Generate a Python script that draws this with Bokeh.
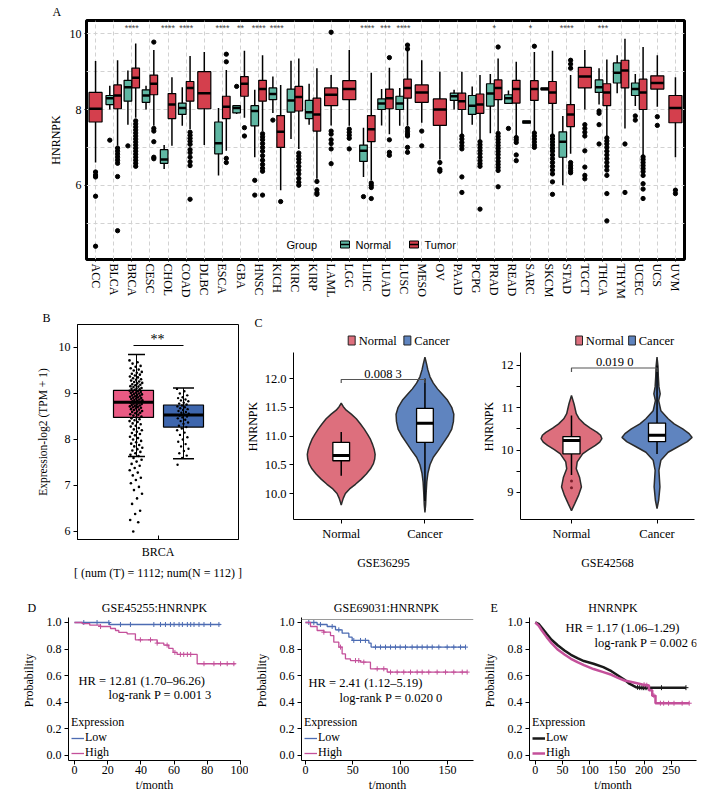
import numpy as np
from bokeh.plotting import figure
from bokeh.layouts import column, row
from bokeh.models import Range1d, FixedTicker, Label, Span, Legend, LegendItem, PrintfTickFormatter
from bokeh.embed import file_html
from bokeh.resources import INLINE
from bokeh.core.properties import value

NaN = float("nan")

# ======================= DATA =======================
# ---- Panel A: pan-cancer HNRNPK expression (box statistics) ----
cancer_types = ["ACC", "BLCA", "BRCA", "CESC", "CHOL", "COAD", "DLBC", "ESCA", "GBA", "HNSC", "KICH",
                "KIRC", "KIRP", "LAML", "LGG", "LIHC", "LUAD", "LUSC", "MESO", "OV", "PAAD", "PCPG",
                "PRAD", "READ", "SARC", "SKCM", "STAD", "TGCT", "THCA", "THYM", "UCEC", "UCS", "UVM"]
significance = ["", "", "****", "", "****", "****", "", "****", "**", "****", "****", "", "", "", "",
                "****", "***", "****", "", "", "", "", "*", "", "*", "", "****", "", "***", "", "", "", ""]

normal_lo = [NaN, 8.00, 7.60, 8.00, 6.43, 7.57, NaN, 6.26, 7.88, 6.74, 7.91, 7.22, 7.60, NaN, NaN, 6.22, 7.58,
             7.57, NaN, NaN, 8.00, 7.60, 7.37, 8.16, 7.67, 8.54, 6.00, NaN, 8.13, 8.43, 8.09, NaN, NaN]
normal_q1 = [NaN, 8.13, 8.22, 8.19, 6.58, 7.87, NaN, 6.83, 7.91, 7.57, 8.26, 7.93, 7.76, NaN, NaN, 6.63, 8.00,
             8.00, NaN, NaN, 8.24, 7.87, 8.09, 8.16, 7.64, 8.52, 6.74, NaN, 8.45, 8.70, 8.37, NaN, NaN]
normal_med = [NaN, 8.30, 8.59, 8.37, 6.68, 8.04, NaN, 7.11, 8.04, 7.96, 8.41, 8.24, 7.93, NaN, NaN, 6.91, 8.16,
              8.16, NaN, NaN, 8.35, 8.10, 8.42, 8.30, 7.67, 8.54, 7.15, NaN, 8.59, 8.97, 8.54, NaN, NaN]
normal_q3 = [NaN, 8.37, 8.77, 8.52, 6.94, 8.17, NaN, 7.67, 8.10, 8.10, 8.57, 8.54, 8.24, NaN, NaN, 7.06, 8.28,
             8.35, NaN, NaN, 8.43, 8.37, 8.68, 8.39, 7.70, 8.57, 7.41, NaN, 8.78, 9.23, 8.70, NaN, NaN]
normal_hi = [NaN, 8.63, 9.03, 8.63, 7.06, 8.59, NaN, 8.04, 8.12, 8.52, 8.87, 9.29, 8.68, NaN, NaN, 7.52, 8.54,
             8.57, NaN, NaN, 8.52, 8.61, 8.94, 8.50, 7.67, 8.54, 7.83, NaN, 9.09, 9.43, 8.94, NaN, NaN]
normal_out = [[], [7.19], [7.04], [], [], [], [], [], [8.61], [6.13, 5.74], [7.72], [], [], [], [], [5.70], [],
              [], [], [], [], [], [], [7.50], [], [], [], [], [7.96, 7.90, 7.60, 7.09], [], [7.83, 7.72], [], []]

tumor_lo = [6.60, 7.04, 7.78, 7.57, 7.04, 7.48, 7.06, 6.91, 7.78, 7.43, 5.87, 6.96, 6.17, 7.58, 7.57, 6.13, 7.35,
            7.57, 7.65, 6.68, 7.35, 7.20, 7.43, 7.30, 7.43, 7.35, 6.83, 8.00, 7.30, 7.50, 6.80, 8.07, 6.74]
tumor_q1 = [7.67, 8.02, 8.57, 8.39, 7.76, 8.22, 8.02, 7.76, 8.35, 8.22, 7.00, 7.96, 7.43, 8.10, 8.26, 7.15, 8.02,
            8.30, 8.19, 7.58, 8.00, 7.90, 8.26, 8.17, 8.24, 8.16, 7.55, 8.57, 8.10, 8.57, 8.00, 8.54, 7.65]
tumor_med = [8.02, 8.37, 8.84, 8.68, 8.13, 8.57, 8.43, 8.07, 8.68, 8.54, 7.41, 8.33, 7.87, 8.39, 8.54, 7.48, 8.30,
             8.57, 8.45, 8.00, 8.22, 8.13, 8.57, 8.54, 8.54, 8.45, 7.87, 8.87, 8.45, 9.03, 8.45, 8.70, 8.04]
tumor_q3 = [8.45, 8.65, 9.09, 8.91, 8.42, 8.74, 9.00, 8.35, 8.87, 8.77, 7.84, 8.61, 8.30, 8.57, 8.76, 7.84, 8.54,
            8.80, 8.65, 8.28, 8.43, 8.41, 8.78, 8.77, 8.76, 8.74, 8.13, 9.11, 8.68, 9.30, 8.80, 8.89, 8.37]
tumor_hi = [9.28, 9.30, 9.74, 9.57, 8.85, 9.41, 9.52, 9.04, 9.55, 9.43, 8.65, 9.35, 9.09, 8.91, 9.57, 8.97, 9.10,
            9.57, 9.30, 9.00, 9.00, 8.91, 9.35, 9.26, 9.52, 9.55, 8.91, 9.57, 9.32, 9.87, 9.65, 9.43, 8.85]
tumor_out = [
    [6.35, 6.27, 6.22, 5.71, 4.39],
    [6.98, 6.90, 6.82, 6.74, 6.66, 6.58, 6.23, 4.80],
    [7.70, 7.62, 7.54, 7.46, 7.38, 7.30, 7.22, 7.14, 7.06, 6.98, 6.90, 6.82, 6.74, 6.66, 6.58, 6.50],
    [9.78, 7.50, 7.43, 7.15, 6.74, 6.70],
    [],
    [7.40, 7.32, 7.24, 7.16, 7.08, 6.94, 6.86, 6.74, 6.62, 6.52, 5.63],
    [],
    [9.46, 9.26, 6.71, 6.60],
    [7.52, 7.30],
    [7.36, 7.28, 7.20, 7.10, 7.00, 6.90, 6.78, 6.66, 6.55, 6.45, 6.37, 5.74],
    [5.57],
    [6.85, 6.77, 6.69, 6.60, 6.50, 6.40, 6.30, 6.18, 6.08, 6.00],
    [6.10, 5.88, 5.80, 5.76],
    [10.04, 7.43, 7.35, 7.20, 7.10, 6.96, 6.57],
    [7.48, 7.40, 7.32, 7.24, 6.96],
    [6.06, 6.00, 5.94, 5.65],
    [9.37, 7.20, 6.87, 6.79],
    [9.70, 9.60, 7.50, 7.42, 7.35, 7.30, 7.00, 6.87],
    [7.43, 7.04],
    [6.60, 6.42, 6.37],
    [7.30, 7.22, 7.13, 7.04, 6.96, 6.22, 5.81],
    [7.15, 7.07, 6.99, 6.91, 6.83, 6.74, 6.65, 6.57, 6.50, 5.37],
    [9.65, 7.37, 7.29, 7.21, 7.13, 7.05, 6.97, 6.89, 6.81, 6.72, 6.63, 6.55, 6.47, 6.39, 5.96],
    [7.26, 7.20, 7.13, 6.80, 6.65],
    [9.67, 7.38, 7.30, 7.22, 7.14, 7.06, 7.00],
    [7.30, 7.22, 7.14, 7.06, 6.98, 6.90, 6.80, 6.70, 6.60, 6.50, 6.40, 6.30, 6.09, 5.76],
    [9.30, 9.20, 9.09, 6.60, 6.52, 6.45, 6.38, 6.33],
    [7.60, 7.50, 7.40, 7.30, 6.91, 6.48, 6.26, 6.17],
    [7.25, 7.17, 7.09, 7.00, 6.90, 6.80, 6.70, 6.60, 6.50, 6.40, 6.26, 5.78, 5.06],
    [7.09, 5.81],
    [6.75, 6.68, 6.60, 6.52, 6.44, 6.36, 6.26, 6.04, 5.90, 5.65],
    [7.81, 7.58],
    [5.87, 5.78],
]

# ---- Panel B: BRCA tumour vs normal ----
b_groups = ["Tumor", "Normal"]
b_lo = [7.63, 7.58]
b_q1 = [8.48, 8.27]
b_med = [8.81, 8.53]
b_q3 = [9.07, 8.75]
b_hi = [9.85, 9.12]
b_tumor_points = [9.72, 9.68, 9.65, 9.60, 9.58, 9.55, 9.52, 9.50, 9.47, 9.45, 9.43, 9.41, 9.39, 9.37, 9.35, 9.33,
                  9.31, 9.30, 9.28, 9.26, 9.25, 9.23, 9.22, 9.20, 9.19, 9.18, 9.16, 9.15, 9.14, 9.12, 9.11, 9.10,
                  9.09, 9.08, 9.06, 9.05, 9.04, 9.03, 9.02, 9.01, 9.00, 8.99, 8.98, 8.97, 8.96, 8.95, 8.94, 8.93,
                  8.92, 8.91, 8.90, 8.89, 8.88, 8.87, 8.86, 8.85, 8.84, 8.83, 8.82, 8.81, 8.80, 8.79, 8.78, 8.77,
                  8.76, 8.75, 8.74, 8.73, 8.72, 8.71, 8.70, 8.69, 8.68, 8.66, 8.65, 8.64, 8.62, 8.61, 8.60, 8.58,
                  8.57, 8.55, 8.54, 8.52, 8.50, 8.48, 8.46, 8.44, 8.42, 8.40, 8.38, 8.35, 8.33, 8.30, 8.28, 8.25,
                  8.22, 8.20, 8.17, 8.14, 8.12, 8.09, 8.06, 8.03, 8.00, 7.97, 7.94, 7.91, 7.88, 7.85, 7.82, 7.79,
                  7.76, 7.73, 7.70, 7.67, 7.64, 7.60, 7.56, 7.52, 7.47, 7.43, 7.38, 7.33, 7.28, 7.22, 7.17, 7.12,
                  7.05, 6.97, 6.90, 6.82, 6.72, 6.60, 6.45, 6.38, 6.25, 6.20, 6.00]
b_normal_points = [9.10, 9.05, 9.00, 8.96, 8.92, 8.90, 8.87, 8.85, 8.83, 8.80, 8.78, 8.76, 8.74, 8.72, 8.70, 8.68,
                   8.66, 8.64, 8.62, 8.60, 8.58, 8.56, 8.54, 8.52, 8.50, 8.48, 8.46, 8.43, 8.40, 8.37, 8.34, 8.30,
                   8.27, 8.24, 8.20, 8.15, 8.10, 8.05, 8.00, 7.95, 7.90, 7.85, 7.80, 7.75, 7.70, 7.65, 7.60, 7.45]

# ---- Panel C: GEO violins (profile: value level, half-width) ----
c1_normal_y = [9.80, 9.85, 9.92, 10.00, 10.08, 10.16, 10.25, 10.34, 10.43, 10.52, 10.60, 10.68, 10.76, 10.85,
               10.94, 11.03, 11.12, 11.21, 11.30, 11.38, 11.45, 11.51, 11.57]
c1_normal_w = [0.0, 0.01, 0.025, 0.05, 0.10, 0.17, 0.24, 0.30, 0.35, 0.385, 0.40, 0.405, 0.395, 0.375, 0.35,
               0.315, 0.275, 0.23, 0.18, 0.12, 0.06, 0.025, 0.0]
c1_cancer_y = [9.67, 9.80, 10.00, 10.20, 10.35, 10.50, 10.63, 10.75, 10.88, 11.00, 11.12, 11.25, 11.38, 11.50,
               11.62, 11.72, 11.82, 11.92, 12.03, 12.15, 12.25, 12.37]
c1_cancer_w = [0.0, 0.008, 0.014, 0.022, 0.035, 0.06, 0.10, 0.16, 0.22, 0.275, 0.32, 0.34, 0.345, 0.32, 0.27,
               0.21, 0.15, 0.10, 0.06, 0.035, 0.02, 0.0]
c1_box = {"q1": [10.57, 10.89], "med": [10.66, 11.22], "q3": [10.89, 11.48], "lo": [10.31, 9.87], "hi": [11.07, 12.0]}
c1_p = "0.008 3"

c2_normal_y = [8.57, 8.73, 8.93, 9.13, 9.36, 9.56, 9.72, 9.91, 10.01, 10.11, 10.19, 10.27, 10.35, 10.42, 10.52,
               10.62, 10.74, 10.86, 11.09, 11.29]
c2_normal_w = [0.0, 0.037, 0.082, 0.116, 0.094, 0.056, 0.067, 0.13, 0.20, 0.28, 0.33, 0.356, 0.34, 0.30, 0.22,
               0.15, 0.09, 0.056, 0.03, 0.0]
c2_cancer_y = [8.62, 8.81, 9.13, 9.52, 9.76, 9.95, 10.08, 10.20, 10.30, 10.39, 10.50, 10.62, 10.74, 10.93, 11.17,
               11.33, 11.50, 11.74, 11.98, 12.20]
c2_cancer_w = [0.0, 0.019, 0.034, 0.022, 0.045, 0.13, 0.245, 0.355, 0.41, 0.375, 0.30, 0.20, 0.13, 0.045, 0.019,
               0.037, 0.022, 0.015, 0.011, 0.0]
c2_box = {"q1": [9.91, 10.20], "med": [10.23, 10.35], "q3": [10.32, 10.64], "lo": [9.41, 9.91], "hi": [10.82, 12.0]}
c2_normal_out = [9.27, 9.11]
c2_p = "0.019 0"

# ---- Panels D/E: Kaplan-Meier curves ----
d1_low_t = [0, 21, 88]
d1_low_s = [1.0, 0.985, 0.985]
d1_high_t = [0, 4.6, 9.2, 15.7, 21.7, 24.7, 26.7, 31.7, 36.7, 49.8, 53.8, 56.8, 59.4, 61.8, 73.9, 97]
d1_high_s = [1.0, 0.992, 0.98, 0.97, 0.955, 0.94, 0.925, 0.915, 0.87, 0.845, 0.83, 0.805, 0.775, 0.76, 0.69, 0.69]
d1_low_cens = [5.6, 13.6, 20.7, 27.7, 33.7, 47.8, 51.8, 54.8, 57.8, 60, 63, 65, 68, 70, 72, 75, 78, 82, 87]
d1_high_cens = [15.7, 39.7, 45.8, 49.8, 55.8, 60.5, 63.8, 65.8, 68, 70, 78, 84, 88, 92, 96]

d2_low_t = [0, 12.3, 22.9, 31.7, 38.7, 45.8, 49.3, 66.9, 69.3, 169]
d2_low_s = [1.0, 0.985, 0.97, 0.945, 0.92, 0.89, 0.865, 0.845, 0.815, 0.815]
d2_high_t = [0, 5.3, 12.3, 19.4, 26.4, 29.9, 35.2, 38.7, 42.2, 47.5, 58.1, 68.6, 86.3, 170.7]
d2_high_s = [1.0, 0.97, 0.94, 0.927, 0.902, 0.852, 0.815, 0.764, 0.727, 0.714, 0.702, 0.652, 0.627, 0.627]
d2_low_cens = [3.5, 8.8, 15.8, 28.2, 35.2, 51.0, 58.1, 63.3, 73.9, 79.2, 84.5, 89.8, 95, 100, 105.6, 112.6,
               117.9, 123.2, 128.5, 133.8, 140.8, 149.6, 156.6, 163.7, 169]
d2_high_cens = [19.4, 37, 52.8, 56.3, 61.6, 75.7, 82.7, 89.8, 96.8, 103.8, 110.9, 117.9, 123.2, 130.2, 139,
                147.9, 156.6, 165.5, 170.7]

e_low_t = [0, 6, 12, 20.8, 29.8, 41.7, 53.6, 65.5, 77.4, 89.3, 107, 125, 140, 152, 164, 173, 185, 193, 277]
e_low_s = [1.0, 0.99, 0.96, 0.915, 0.87, 0.827, 0.79, 0.757, 0.732, 0.71, 0.69, 0.664, 0.634, 0.602, 0.57,
           0.54, 0.514, 0.51, 0.51]
e_high_t = [0, 6, 12, 20.8, 29.8, 41.7, 53.6, 65.5, 77.4, 89.3, 107, 125, 140, 152, 164, 179, 197, 209, 209,
            215, 215, 221, 221, 283]
e_high_s = [1.0, 0.977, 0.94, 0.89, 0.845, 0.795, 0.76, 0.727, 0.702, 0.68, 0.65, 0.627, 0.607, 0.584, 0.564,
            0.551, 0.534, 0.526, 0.49, 0.49, 0.45, 0.45, 0.393, 0.393]
e_low_cens = [188, 192, 196, 199, 202, 205, 232, 277]
e_high_cens = [200, 205, 218, 230, 236, 245, 255, 270, 283]

# ======================= STYLE =======================
SERIF = "Liberation Serif"
SANS = "Liberation Sans"
NORM_A, TUM_A = "#5fb7a3", "#d43f4d"
PINK_B, BLUE_B = "#ea5a84", "#3e66ad"
PINK_C, BLUE_C = "#dd6f7d", "#5f84bf"
KM_BLUE, KM_PINK, KM_BLACK = "#4d6cb3", "#c4509a", "#1a1a1a"


class Geo:
    """Figure placement: origin/size on the page and the frame box (page px), with data ranges."""

    def __init__(self, ox, oy, w, h, L, T, R, B, xr, yr):
        self.ox, self.oy, self.w, self.h = ox, oy, w, h
        self.L, self.T, self.R, self.B = L, T, R, B
        self.xr, self.yr = xr, yr

    def fx(self, px):
        return self.xr[0] + (px - self.L) / (self.R - self.L) * (self.xr[1] - self.xr[0])

    def fy(self, py):
        return self.yr[1] - (py - self.T) / (self.B - self.T) * (self.yr[1] - self.yr[0])

    def dx(self, px):
        return px / (self.R - self.L) * (self.xr[1] - self.xr[0])

    def dy(self, px):
        return px / (self.B - self.T) * (self.yr[1] - self.yr[0])

    def fig(self):
        p = figure(width=self.w, height=self.h, x_range=Range1d(*self.xr), y_range=Range1d(*self.yr),
                   min_border_left=self.L - self.ox, min_border_right=self.ox + self.w - self.R,
                   min_border_top=self.T - self.oy, min_border_bottom=self.oy + self.h - self.B,
                   output_backend="svg", toolbar_location=None, tools="")
        p.frame_align = False
        p.background_fill_color = "white"
        p.border_fill_color = "white"
        p.outline_line_color = None
        p.grid.visible = False
        for ax in list(p.xaxis) + list(p.yaxis):
            ax.major_label_text_font = SERIF
            ax.major_label_text_font_size = "12px"
            ax.major_label_text_color = "black"
            ax.axis_label_text_font = SERIF
            ax.axis_label_text_font_size = "12px"
            ax.axis_label_text_font_style = "normal"
            ax.axis_label_text_color = "black"
            ax.axis_line_color = "black"
            ax.major_tick_line_color = "black"
            ax.minor_tick_line_color = None
            ax.major_tick_in = 0
            ax.major_tick_out = 4
            ax.major_label_standoff = 3
        return p


def add_text(p, x, y, text, size="12px", font=SERIF, align="left", baseline="middle", color="black",
             style="normal", **kw):
    p.add_layout(Label(x=x, y=y, text=text, text_font=font, text_font_size=size, text_align=align,
                       text_baseline=baseline, text_color=color, text_font_style=style, **kw))


def letter(p, text, offset, standoff):
    p.title.text = text
    p.title.align = "left"
    p.title.offset = offset
    p.title.standoff = standoff
    p.title.text_font = SERIF
    p.title.text_font_size = "12px"
    p.title.text_font_style = "normal"
    p.title.text_color = "black"


# ======================= PANEL A =======================
gA = Geo(0, 0, 712, 308, 86, 20, 684, 259, (0.5, 33.5), (4.04, 10.35))
pA = gA.fig()
pA.outline_line_color = "black"
pA.outline_line_width = 3
ncat = len(cancer_types)
pos = np.arange(1, ncat + 1, dtype=float)
has_n = ~np.isnan(np.array(normal_med))
tx = np.where(has_n, pos + 0.215, pos)
tw = np.where(has_n, 0.42, 0.72)
nx = pos[has_n] - 0.215
nw = 0.42


def masked(a):
    return np.array(a)[has_n]


xg = pA.xgrid[0]
xg.visible = True
xg.ticker = FixedTicker(ticks=list(range(1, ncat + 1)))
yg = pA.ygrid[0]
yg.visible = True
yg.ticker = FixedTicker(ticks=[5, 6, 7, 8, 9, 10])
for g in (xg, yg):
    g.grid_line_color = "#d2d2d2"
    g.grid_line_dash = "4 3"
    g.grid_line_width = 1

pA.segment(x0=nx, y0=masked(normal_lo), x1=nx, y1=masked(normal_hi), line_color="black", line_width=1.5)
pA.segment(x0=tx, y0=tumor_lo, x1=tx, y1=tumor_hi, line_color="black", line_width=1.5)
pA.vbar(x=nx, width=nw, bottom=masked(normal_q1), top=masked(normal_q3), fill_color=NORM_A,
        line_color="black", line_width=1.2)
pA.vbar(x=tx, width=tw, bottom=tumor_q1, top=tumor_q3, fill_color=TUM_A, line_color="black", line_width=1.2)
pA.segment(x0=nx - nw / 2, y0=masked(normal_med), x1=nx + nw / 2, y1=masked(normal_med),
           line_color="black", line_width=2.5)
pA.segment(x0=tx - tw / 2, y0=tumor_med, x1=tx + tw / 2, y1=tumor_med, line_color="black", line_width=2.5)
ox, oy = [], []
for i, lst in enumerate(normal_out):
    for v in lst:
        ox.append(pos[i] - 0.215)
        oy.append(v)
for i, lst in enumerate(tumor_out):
    for v in lst:
        ox.append(tx[i])
        oy.append(v)
pA.scatter(ox, oy, marker="circle", size=4.3, fill_color="black", line_color="black")
sx = [pos[i] for i, s in enumerate(significance) if s]
st = [s for s in significance if s]
pA.text(x=sx, y=[gA.fy(27.5)] * len(sx), text=st, text_font=value(SANS), text_font_size="9px",
        text_align="center", text_baseline="middle", text_color="#444444")

axA = pA.xaxis[0]
axA.ticker = FixedTicker(ticks=list(range(1, ncat + 1)))
axA.major_label_overrides = {i + 1: c for i, c in enumerate(cancer_types)}
axA.major_label_orientation = "vertical"
axA.axis_line_color = None
axA.major_tick_out = 2
axA.major_label_standoff = 2
ayA = pA.yaxis[0]
ayA.ticker = FixedTicker(ticks=[6, 8, 10])
ayA.axis_line_color = None
ayA.major_tick_out = 2
ayA.major_label_standoff = 3
ayA.axis_label = "HNRNPK"
ayA.axis_label_standoff = 4

add_text(pA, gA.fx(286), gA.fy(244), "Group", size="11px", font=SANS)
for cx, col, lab in ((344.5, NORM_A, "Normal"), (413.5, TUM_A, "Tumor")):
    pA.rect(x=[gA.fx(cx)], y=[gA.fy(244)], width=gA.dx(9), height=gA.dy(7), fill_color=col,
            line_color="black", line_width=1)
    pA.segment(x0=[gA.fx(cx - 4.5)], y0=[gA.fy(244)], x1=[gA.fx(cx + 4.5)], y1=[gA.fy(244)],
               line_color="black", line_width=1.5)
    add_text(pA, gA.fx(cx + 10.5), gA.fy(244), lab, size="11px", font=SANS)
letter(pA, "A", -34, 3)

# ======================= PANEL B =======================
gB = Geo(0, 308, 242, 280, 77, 324, 238, 539, (0.0, 2.0), (5.826, 10.5))
pB = gB.fig()
pB.outline_line_color = "black"
pB.outline_line_width = 1
bx = [gB.fx(133), gB.fx(183)]
cap_x = [gB.fx(136), gB.fx(183)]
cap_w = [gB.dx(17), gB.dx(21)]
bw = gB.dx(40)
pB.vbar(x=bx, width=bw, bottom=b_q1, top=b_q3, fill_color=[PINK_B, BLUE_B], line_color="black", line_width=1.2)
pB.segment(x0=cap_x, y0=b_lo, x1=cap_x, y1=b_hi, line_color="black", line_width=1)
cap_l = [c - w / 2 for c, w in zip(cap_x, cap_w)]
cap_r = [c + w / 2 for c, w in zip(cap_x, cap_w)]
pB.segment(x0=cap_l, y0=b_hi, x1=cap_r, y1=b_hi, line_color="black", line_width=1.5)
pB.segment(x0=cap_l, y0=b_lo, x1=cap_r, y1=b_lo, line_color="black", line_width=1.5)


def jitter(n, half):
    return np.array([((i * 0.6180339887) % 1.0 - 0.5) * 2 * half for i in range(n)])


jt = gB.fx(135.5) + jitter(len(b_tumor_points), gB.dx(6.5))
jn = gB.fx(182.5) + jitter(len(b_normal_points), gB.dx(6))
pB.scatter(jt, b_tumor_points, marker="circle", size=2.6, fill_color="black", line_color=None)
pB.scatter(jn, b_normal_points, marker="circle", size=2.4, fill_color="black", line_color=None)
pB.segment(x0=[b - bw / 2 for b in bx], y0=b_med, x1=[b + bw / 2 for b in bx], y1=b_med,
           line_color="black", line_width=3)
pB.line(x=bx, y=[gB.fy(345)] * 2, line_color="black", line_width=1)
add_text(pB, gB.fx(157), gB.fy(339), "**", size="14px", align="center")
letter(pB, "B", -35, 0)
pB.yaxis[0].ticker = FixedTicker(ticks=[6, 7, 8, 9, 10])
pB.yaxis[0].axis_label = "Expression-log2 (TPM + 1)"
pB.yaxis[0].axis_label_text_font_size = "11.5px"
pB.yaxis[0].axis_label_standoff = 7
pB.xaxis[0].ticker = FixedTicker(ticks=[1])
pB.xaxis[0].major_label_overrides = {1: "BRCA"}
pB.xaxis[0].major_tick_out = 0
pB.xaxis[0].major_tick_in = 4
pB.xaxis[0].major_label_standoff = 5
pB.xaxis[0].axis_label = "[ (num (T) = 1112; num(N = 112) ]"
pB.xaxis[0].axis_label_standoff = 4


# ======================= PANEL C =======================
def violin_panel(g, axis_top, norm_y, norm_w, canc_y, canc_w, box, p_text, title, yticks, minor, geo_px, bw,
                 extra=None):
    p = g.fig()
    for cx, ys, ws, col in ((1, norm_y, norm_w, PINK_C), (2, canc_y, canc_w, BLUE_C)):
        ys = np.array(ys)
        ws = np.array(ws)
        xs = np.concatenate([cx - ws, (cx + ws)[::-1]])
        yy = np.concatenate([ys, ys[::-1]])
        p.patch(xs, yy, fill_color=col, line_color="#2b2b2b", line_width=1.5)
    cxs = [1, 2]
    p.segment(x0=cxs, y0=box["lo"], x1=cxs, y1=box["hi"], line_color="black", line_width=1.5)
    p.vbar(x=cxs, width=bw, bottom=box["q1"], top=box["q3"], fill_color="white", line_color="black",
           line_width=1.3)
    p.segment(x0=[c - bw / 2 for c in cxs], y0=box["med"], x1=[c + bw / 2 for c in cxs], y1=box["med"],
              line_color="black", line_width=3)
    if extra is not None:
        p.scatter([1] * len(extra), extra, marker="circle", size=3, fill_color="#7a1f2b", line_color=None)
    yb, yt = geo_px["bracket"]
    p.line(x=[1, 1, 2, 2], y=[g.fy(yt), g.fy(yb), g.fy(yb), g.fy(yt)], line_color="#555555", line_width=1.2)
    add_text(p, g.fx(geo_px["ptext"]), g.fy(yb - 6), p_text, size="12.5px", align="center")
    for kx, col, lab in ((geo_px["k1"], PINK_C, "Normal"), (geo_px["k2"], BLUE_C, "Cancer")):
        p.rect(x=[g.fx(kx)], y=[g.fy(340)], width=g.dx(7), height=g.dy(9), fill_color=col,
               line_color="#222222", line_width=1)
        add_text(p, g.fx(kx + 7), g.fy(340), lab, size="12.5px")
    ax = p.xaxis[0]
    ax.ticker = FixedTicker(ticks=[1, 2])
    ax.major_label_overrides = {1: "Normal", 2: "Cancer"}
    ax.major_label_text_font_size = "12.5px"
    ax.axis_label = title
    ax.axis_label_standoff = 12
    ay = p.yaxis[0]
    ay.ticker = FixedTicker(ticks=yticks, minor_ticks=minor)
    ay.bounds = (g.yr[0], axis_top)
    ay.major_label_text_font_size = "12.5px"
    ay.axis_label = "HNRNPK"
    ay.axis_label_standoff = 2
    if minor:
        ay.minor_tick_line_color = "black"
        ay.minor_tick_out = 4
        ay.minor_tick_in = 0
    else:
        ay.formatter = PrintfTickFormatter(format="%.1f")
    return p


# frame starts at the legend row (333); the y axis line itself stops at 352
gC1 = Geo(242, 308, 236, 280, 292, 333, 473, 519, (0.43, 2.58), (9.548, 12.783))
pC1 = violin_panel(gC1, 12.452, c1_normal_y, c1_normal_w, c1_cancer_y, c1_cancer_w, c1_box, c1_p, "GSE36295",
                   [10, 10.5, 11, 11.5, 12], [],
                   {"bracket": (379, 382.5), "ptext": 382, "k1": 350.5, "k2": 406.5}, 0.2)
letter(pC1, "C", -39, 8)

gC2 = Geo(478, 308, 234, 280, 513, 333, 694, 519, (0.404, 2.438), (8.36, 12.756))
pC2 = violin_panel(gC2, 12.31, c2_normal_y, c2_normal_w, c2_cancer_y, c2_cancer_w, c2_box, c2_p, "GSE42568",
                   [9, 10, 11, 12], [9.5, 10.5, 11.5],
                   {"bracket": (367.5, 371.5), "ptext": 611, "k1": 574, "k2": 629}, 0.2, extra=c2_normal_out)


# ======================= PANELS D / E =======================
def step_value(t, s, c):
    idx = np.searchsorted(np.array(t), np.array(c), side="right") - 1
    return np.array(s)[np.clip(idx, 0, len(s) - 1)]


def km_panel(g, xticks, curves, title, title_px, hr_txt, hr_px, lr_txt, lr_px, smooth=False, lw=1.3):
    p = g.fig()
    rends = []
    for t, s, cens, col in curves:
        if smooth:
            r = p.line(t, s, line_color=col, line_width=lw)
            cy = np.interp(cens, t, s)
        else:
            r = p.step(t, s, mode="after", line_color=col, line_width=lw)
            cy = step_value(t, s, cens)
        p.scatter(cens, cy, marker="cross", size=5, line_color=col, line_width=1)
        rends.append(r)
    leg = Legend(items=[LegendItem(label="Low", renderers=[rends[0]]),
                        LegendItem(label="High", renderers=[rends[1]])],
                 title="Expression", location=(3, 0), orientation="vertical",
                 background_fill_alpha=0, border_line_color=None, padding=0, margin=0, spacing=-5,
                 label_text_font=SERIF, label_text_font_size="12px", label_text_color="black",
                 title_text_font=SERIF, title_text_font_size="12px", title_text_font_style="normal",
                 title_text_color="black", glyph_width=13, glyph_height=10, label_height=10,
                 label_standoff=1, title_standoff=-3)
    p.add_layout(leg)
    add_text(p, g.fx(title_px), g.fy(607), title, size="12px", align="center")
    add_text(p, g.fx(hr_px[0]), g.fy(hr_px[1]), hr_txt, size="12.5px")
    add_text(p, g.fx(lr_px[0]), g.fy(lr_px[1]), lr_txt, size="12.5px")
    p.yaxis[0].ticker = FixedTicker(ticks=[0, 0.2, 0.4, 0.6, 0.8, 1.0])
    p.yaxis[0].bounds = (KM_Y[0], KM_Y[1])
    p.yaxis[0].formatter = PrintfTickFormatter(format="%.1f")
    p.yaxis[0].axis_label = "Probability"
    p.yaxis[0].axis_label_standoff = 8
    p.xaxis[0].ticker = FixedTicker(ticks=xticks)
    p.xaxis[0].axis_label = "t/month"
    p.xaxis[0].major_label_standoff = 1
    p.xaxis[0].axis_label_standoff = 1
    return p


# survival axis spans -0.0376..1.0376 (page y 760..617); frame extends up to 600 for the panel titles
KM_Y = (-0.0376, 1.0376)
KM_FRAME_Y = (-0.0376, 1.1654)
gD1 = Geo(0, 588, 248, 212, 68, 600, 240, 760, (-3.6, 100.0), KM_FRAME_Y)
pD1 = km_panel(gD1, [0, 20, 40, 60, 80, 100],
               [(d1_low_t, d1_low_s, d1_low_cens, KM_BLUE), (d1_high_t, d1_high_s, d1_high_cens, KM_PINK)],
               "GSE45255:HNRNPK", 154, "HR = 12.81 (1.70\u201396.26)", (78, 680),
               "log-rank P = 0.001 3", (108, 694))
letter(pD1, "D", -41, -29)

gD2 = Geo(248, 588, 231, 212, 301, 600, 473, 760, (-4.2, 177.4), KM_FRAME_Y)
pD2 = km_panel(gD2, [0, 50, 100, 150],
               [(d2_low_t, d2_low_s, d2_low_cens, KM_BLUE), (d2_high_t, d2_high_s, d2_high_cens, KM_PINK)],
               "GSE69031:HNRNPK", 386, "HR = 2.41 (1.12\u20135.19)", (308, 682),
               "log-rank P = 0.020 0", (339, 697))
pD2.add_layout(Span(location=gD2.fy(619), dimension="width", line_color="#9a9a9a", line_width=1))

gE = Geo(479, 588, 233, 212, 524, 600, 696, 760, (-10.7, 296.4), KM_FRAME_Y)
pE = km_panel(gE, [0, 50, 100, 150, 200, 250],
              [(e_low_t, e_low_s, e_low_cens, KM_BLACK), (e_high_t, e_high_s, e_high_cens, KM_PINK)],
              "HNRNPK", 610, "HR = 1.17 (1.06\u20131.29)", (561, 627),
              "log-rank P = 0.002 6", (591, 642), smooth=True, lw=2.5)
letter(pE, "E", -39, -29)

layout = column(pA, row(pB, pC1, pC2, spacing=0), row(pD1, pD2, pE, spacing=0), spacing=0)
open("out.html", "w").write(file_html(layout, INLINE, title="HNRNPK"))
